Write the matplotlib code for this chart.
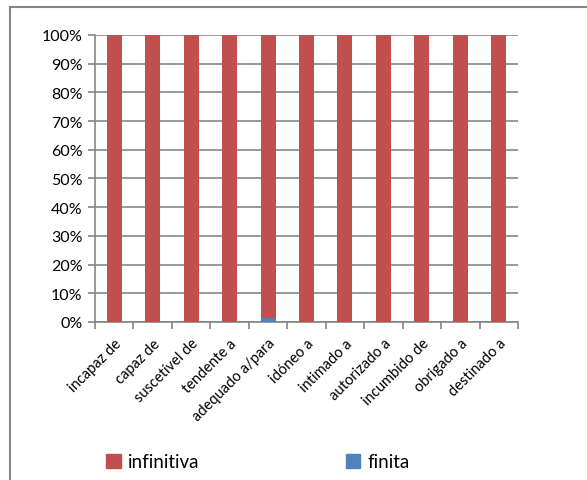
import numpy as np
import matplotlib
matplotlib.use("Agg")
import matplotlib.pyplot as plt
from matplotlib.patches import Rectangle
from matplotlib.lines import Line2D
from matplotlib.ticker import FuncFormatter

plt.rcParams['font.family'] = ['Lato', 'DejaVu Sans']

categories = ['incapaz de', 'capaz de', 'suscetível de', 'tendente a', 'adequado a/para',
              'idóneo a', 'intimado a', 'autorizado a', 'incumbido de', 'obrigado a', 'destinado a']
finita = [0, 0, 0, 0, 1.5, 0, 0, 0, 0, 0, 0]
infinitiva = [100 - f for f in finita]

red = '#C0504D'
blue = '#4F81BD'
grey = '#868686'

fig = plt.figure(figsize=(5.87, 4.81), dpi=100)
ax = fig.add_axes([0.1618, 0.3285, 0.7207, 0.5967])

x = np.arange(len(categories))
ax.bar(x, finita, width=0.39, color=blue, zorder=3)
ax.bar(x, infinitiva, width=0.39, bottom=finita, color=red, zorder=3)

ax.set_xlim(-0.5, len(categories) - 0.5)
ax.set_ylim(0, 100)
ax.set_yticks(np.arange(0, 101, 10))
ax.yaxis.set_major_formatter(FuncFormatter(lambda v, p: f'{v:.0f}%'))
ax.grid(axis='y', color=grey, linewidth=1.2, zorder=0)
ax.tick_params(axis='y', length=5, color=grey, width=1.2, labelsize=11.5, pad=4)

ax.set_xticks(x)
ax.set_xticklabels(categories, rotation=45, ha='right', rotation_mode='anchor', fontsize=10.5)
ax.tick_params(axis='x', length=0, pad=10)
ax.set_xticks(np.arange(-0.5, len(categories)), minor=True)
ax.tick_params(axis='x', which='minor', length=5, color=grey, width=1.2)

for s in ['top', 'right']:
    ax.spines[s].set_visible(False)
for s in ['left', 'bottom']:
    ax.spines[s].set_color(grey)
    ax.spines[s].set_linewidth(1.2)

# chart frame: only top and left edges are inside the picture
fx = 9.5 / 587
fy = 1 - 7.5 / 481
fig.add_artist(Line2D([fx, 1.0], [fy, fy], transform=fig.transFigure, color=grey, linewidth=1.5))
fig.add_artist(Line2D([fx, fx], [0.0, fy], transform=fig.transFigure, color=grey, linewidth=1.5))

handles = [Rectangle((0, 0), 1, 1, color=red), Rectangle((0, 0), 1, 1, color=blue)]
fig.legend(handles, ['infinitiva', 'finita'], loc='center',
           bbox_to_anchor=(258 / 587, 1 - 463 / 481), ncol=2, frameon=False,
           fontsize=13.5, handlelength=0.75, handleheight=0.75, handletextpad=0.4,
           columnspacing=7.8)

fig.savefig('out.png', dpi=100)
